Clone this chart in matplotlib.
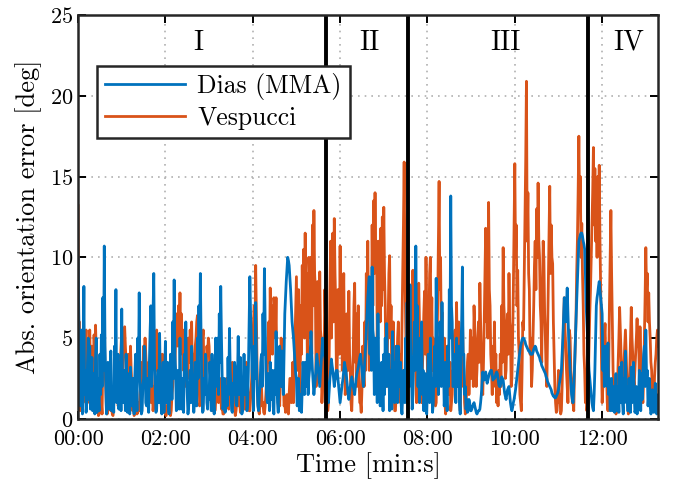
import numpy as np
import matplotlib
matplotlib.use("Agg")
import matplotlib.pyplot as plt
from matplotlib.ticker import FuncFormatter, MultipleLocator

plt.rcParams['font.family'] = ['cmr10', 'DejaVu Serif']
plt.rcParams['axes.formatter.use_mathtext'] = True

# sample times [s], one value per second (20 s per row below)
t_sec = np.arange(0, 800, 1)

err_dias = [
    10.0, 6.5, 4.0, 0.8, 2.0, 5.5, 0.3, 3.0, 8.2, 1.5, 3.0, 0.4, 1.0, 3.5, 5.0, 1.2, 4.5, 0.6, 2.2, 3.8,
    0.5, 1.8, 2.8, 0.3, 3.8, 5.0, 0.4, 2.5, 1.2, 0.5, 4.0, 1.5, 5.2, 2.0, 7.5, 3.0, 10.7, 4.5, 2.5, 0.3,
    0.8, 3.5, 2.0, 0.6, 3.0, 4.2, 0.5, 2.0, 1.5, 0.4, 4.5, 2.5, 8.0, 1.0, 2.5, 4.0, 0.6, 1.5, 3.5, 0.5,
    6.8, 2.0, 1.0, 3.0, 2.5, 0.5, 4.0, 1.5, 0.4, 2.8, 1.8, 0.3, 3.2, 1.5, 0.8, 2.5, 1.0, 0.3, 2.6, 4.0,
    2.0, 0.5, 5.0, 3.0, 7.8, 2.5, 1.5, 0.3, 0.5, 2.0, 2.5, 4.5, 4.2, 1.0, 0.8, 2.5, 1.5, 0.4, 3.5, 5.5,
    7.0, 2.0, 4.0, 6.5, 9.0, 3.5, 2.0, 0.4, 0.6, 2.2, 3.0, 1.0, 5.3, 2.5, 1.0, 0.3, 2.0, 3.5, 0.4, 2.5,
    4.8, 1.0, 2.0, 3.5, 0.8, 0.3, 1.8, 4.0, 3.2, 1.2, 6.0, 2.5, 8.6, 4.0, 3.0, 0.5, 1.0, 3.0, 2.2, 0.6,
    5.0, 2.0, 0.6, 1.5, 2.5, 0.4, 4.0, 2.5, 6.0, 3.0, 1.5, 0.3, 0.8, 2.0, 3.0, 1.0, 4.5, 2.5, 1.2, 0.4,
    1.0, 3.5, 2.8, 0.8, 5.0, 2.5, 7.0, 4.0, 9.0, 5.0, 2.0, 0.4, 0.5, 2.5, 1.5, 4.0, 3.5, 1.0, 0.6, 2.0,
    1.2, 3.5, 2.5, 0.5, 4.0, 2.0, 1.0, 0.3, 2.5, 5.0, 4.2, 2.0, 5.0, 1.5, 6.5, 3.5, 8.2, 5.0, 2.5, 0.6,
    1.0, 2.5, 0.4, 1.5, 2.0, 0.8, 3.8, 1.5, 5.6, 3.0, 2.0, 0.5, 0.4, 2.2, 1.5, 3.5, 3.0, 1.0, 0.8, 2.5,
    5.1, 1.5, 2.5, 3.8, 1.5, 0.3, 0.5, 2.0, 4.0, 1.5, 2.0, 3.2, 0.5, 1.0, 3.0, 6.0, 8.8, 6.5, 5.0, 3.0,
    2.0, 0.5, 4.5, 2.5, 7.2, 4.0, 2.0, 0.8, 0.5, 1.5, 2.0, 3.5, 4.0, 2.0, 6.5, 4.0, 9.3, 6.0, 3.0, 1.5,
    1.0, 2.8, 2.5, 0.5, 3.5, 1.2, 1.5, 3.0, 0.8, 0.3, 3.0, 1.5, 5.4, 2.8, 1.0, 0.4, 2.5, 4.5, 3.8, 2.0,
    4.2, 2.5, 1.5, 4.0, 6.5, 7.5, 8.5, 9.2, 10.0, 9.8, 9.5, 8.8, 8.0, 7.0, 6.0, 5.5, 5.0, 4.2, 3.5, 2.8,
    2.5, 0.8, 1.0, 2.5, 0.5, 1.5, 1.2, 0.4, 2.0, 3.5, 3.0, 1.5, 3.5, 2.0, 2.5, 4.0, 1.5, 2.5, 3.0, 4.2,
    5.4, 4.0, 3.0, 2.2, 1.5, 2.0, 2.5, 3.2, 4.0, 3.5, 3.0, 2.5, 2.0, 2.8, 3.5, 4.2, 5.0, 4.5, 4.0, 3.8,
    3.5, 2.8, 2.0, 1.5, 1.0, 1.8, 2.5, 3.0, 3.7, 3.3, 3.0, 2.5, 2.0, 2.4, 2.8, 3.0, 3.0, 2.5, 2.0, 1.5,
    1.0, 1.4, 1.8, 2.2, 2.5, 3.0, 3.5, 3.2, 3.0, 2.5, 2.0, 1.5, 1.2, 1.6, 2.0, 2.3, 2.6, 2.3, 2.0, 1.8,
    1.5, 2.0, 2.5, 2.8, 3.0, 3.2, 3.5, 3.8, 4.0, 3.5, 3.0, 2.5, 2.0, 2.8, 3.5, 4.5, 5.5, 6.5, 7.5, 8.2,
    8.8, 4.0, 7.0, 3.0, 9.4, 5.5, 5.0, 1.5, 3.0, 5.0, 4.5, 1.0, 6.5, 3.0, 3.0, 0.8, 1.0, 3.5, 2.5, 0.5,
    4.0, 1.5, 5.0, 2.0, 5.9, 3.0, 2.0, 4.0, 0.5, 2.0, 3.0, 0.6, 5.4, 2.0, 3.5, 1.0, 2.0, 4.5, 3.0, 1.0,
    4.5, 2.0, 2.0, 3.5, 0.8, 0.3, 1.5, 3.0, 3.0, 1.0, 5.0, 2.5, 7.2, 3.0, 5.5, 2.0, 8.3, 4.0, 3.0, 0.6,
    1.5, 4.0, 6.0, 3.0, 10.7, 5.0, 7.0, 2.0, 4.0, 1.0, 5.0, 2.5, 6.0, 1.5, 3.0, 0.5, 1.5, 2.8, 0.5, 0.3,
    2.0, 4.0, 3.5, 1.0, 5.0, 2.0, 2.5, 0.4, 1.0, 3.0, 4.5, 2.0, 8.7, 4.0, 5.0, 1.5, 3.0, 6.0, 5.0, 2.0,
    7.2, 3.0, 3.5, 0.8, 1.5, 3.5, 2.5, 0.5, 4.5, 2.0, 8.0, 5.0, 13.8, 7.0, 6.0, 2.0, 2.0, 4.0, 3.5, 1.0,
    5.0, 2.0, 2.5, 4.5, 1.0, 0.3, 4.5, 6.0, 9.4, 4.0, 4.0, 1.5, 2.0, 0.6, 1.2, 0.4, 0.8, 1.2, 1.0, 0.5,
    0.5, 0.6, 0.8, 0.9, 1.0, 0.8, 0.6, 0.4, 0.3, 0.4, 0.5, 0.5, 0.6, 1.0, 1.5, 2.2, 2.9, 2.6, 2.4, 2.7,
    2.9, 2.5, 2.2, 2.4, 2.6, 2.8, 2.9, 3.0, 3.0, 2.7, 2.4, 2.5, 2.5, 2.6, 2.8, 2.9, 2.8, 2.5, 2.1, 2.0,
    2.0, 2.3, 2.6, 2.5, 2.4, 2.0, 1.6, 1.4, 1.2, 1.5, 1.8, 1.9, 2.0, 1.5, 1.0, 0.7, 0.5, 0.7, 1.0, 1.2,
    1.5, 1.8, 2.2, 2.6, 3.0, 3.4, 3.8, 4.2, 4.5, 4.7, 4.9, 5.0, 5.0, 4.9, 4.8, 4.6, 4.5, 4.4, 4.3, 4.2,
    4.2, 4.1, 4.0, 4.0, 4.0, 4.1, 4.3, 4.4, 4.5, 4.4, 4.2, 4.1, 4.0, 3.9, 3.8, 3.6, 3.5, 3.3, 3.2, 3.1,
    3.0, 2.9, 2.8, 2.6, 2.5, 2.3, 2.2, 2.1, 2.0, 1.9, 1.8, 1.6, 1.5, 1.4, 1.4, 1.3, 1.3, 1.4, 1.5, 1.6,
    1.8, 2.1, 2.4, 2.7, 3.0, 4.0, 5.0, 6.2, 7.5, 6.5, 6.0, 7.0, 8.1, 6.5, 5.0, 4.0, 3.0, 2.2, 1.5, 1.2,
    1.0, 2.0, 3.0, 4.5, 6.0, 7.2, 8.5, 9.8, 11.0, 11.2, 11.4, 11.5, 11.5, 11.3, 11.0, 10.8, 10.5, 9.0, 7.0, 6.0,
    5.0, 4.0, 3.0, 2.5, 2.0, 1.5, 1.0, 0.7, 0.5, 1.5, 3.0, 5.0, 7.0, 7.5, 7.8, 8.2, 8.5, 8.0, 7.5, 7.0,
    6.5, 3.0, 4.5, 2.0, 3.0, 4.5, 4.0, 2.0, 4.7, 1.5, 2.5, 0.5, 1.0, 2.5, 0.5, 1.5, 2.0, 0.4, 1.0, 2.8,
    0.5, 2.0, 1.5, 0.4, 3.2, 1.0, 2.0, 3.5, 1.0, 0.3, 2.5, 1.0, 4.2, 1.5, 2.0, 0.5, 0.5, 2.5, 1.5, 0.4,
    3.2, 1.0, 2.5, 3.5, 1.5, 0.4, 0.6, 2.0, 0.3, 1.5, 1.0, 3.0, 2.0, 0.5, 2.8, 1.2, 3.0, 4.0, 4.5, 2.0,
    5.5, 2.5, 3.0, 0.8, 1.5, 2.5, 0.8, 0.3, 0.5, 1.8, 1.0, 0.4, 1.2, 2.2, 0.6, 0.3, 0.8, 1.5, 1.5, 0.6,
]

err_vespucci = [
    13.2, 3.0, 6.0, 0.5, 1.5, 4.0, 3.5, 1.0, 5.3, 2.0, 4.5, 5.5, 3.0, 1.0, 4.8, 2.5, 5.5, 3.0, 2.0, 4.5,
    4.0, 1.5, 5.2, 3.0, 5.8, 4.0, 2.5, 0.8, 0.2, 0.3, 0.5, 2.0, 1.0, 0.3, 4.0, 6.0, 7.2, 3.0, 2.0, 0.5,
    0.3, 0.6, 1.0, 2.0, 2.5, 0.5, 1.0, 0.3, 0.2, 1.0, 2.0, 3.5, 4.0, 1.5, 2.5, 0.8, 1.0, 2.5, 3.5, 4.5,
    5.4, 2.5, 4.0, 5.0, 5.7, 4.5, 3.5, 1.5, 2.0, 4.0, 3.0, 1.0, 4.5, 3.0, 2.0, 0.5, 0.8, 0.2, 0.4, 1.0,
    1.2, 0.3, 0.4, 1.0, 0.5, 1.5, 2.0, 3.0, 3.5, 2.0, 4.5, 3.5, 5.0, 4.0, 3.0, 1.0, 2.0, 3.5, 1.0, 2.0,
    3.0, 1.0, 2.0, 0.5, 1.0, 2.0, 3.0, 4.5, 5.5, 3.0, 4.0, 1.5, 2.5, 4.0, 3.5, 2.0, 4.0, 3.0, 1.5, 0.4,
    0.3, 0.2, 0.8, 0.5, 1.5, 0.8, 0.4, 0.2, 0.5, 1.5, 2.0, 3.0, 4.0, 3.0, 5.0, 6.5, 6.0, 4.5, 7.0, 5.5,
    7.8, 5.0, 6.5, 4.0, 5.5, 3.0, 4.0, 2.0, 3.0, 5.0, 4.0, 2.5, 5.0, 3.5, 5.5, 4.0, 6.0, 3.0, 4.0, 2.0,
    3.0, 4.5, 5.0, 6.0, 6.4, 2.0, 3.0, 0.8, 1.0, 2.5, 3.5, 5.0, 5.5, 2.5, 4.0, 2.0, 3.0, 4.5, 4.0, 5.0,
    4.5, 3.0, 2.5, 1.0, 1.5, 0.5, 0.8, 1.5, 0.5, 1.0, 1.2, 2.5, 2.0, 1.0, 1.8, 2.5, 1.5, 0.6, 0.8, 0.3,
    0.3, 0.8, 1.5, 2.0, 2.5, 1.5, 1.8, 0.6, 1.0, 1.8, 2.5, 3.0, 3.5, 2.0, 1.5, 0.6, 0.2, 0.5, 1.0, 1.5,
    2.0, 0.8, 1.2, 0.4, 0.5, 1.5, 1.0, 2.0, 1.5, 0.6, 2.5, 3.5, 3.0, 2.0, 1.5, 0.5, 0.5, 1.2, 2.0, 3.0,
    4.0, 6.0, 7.0, 5.0, 9.5, 6.0, 3.0, 1.0, 0.5, 0.3, 1.0, 2.5, 2.0, 0.8, 1.0, 0.4, 0.3, 0.8, 1.5, 2.5,
    3.0, 4.5, 6.0, 3.5, 8.1, 5.0, 7.0, 4.0, 6.0, 7.5, 7.0, 5.0, 7.5, 3.0, 4.0, 1.5, 2.0, 0.8, 3.0, 5.0,
    4.0, 2.0, 2.5, 0.8, 1.0, 0.4, 0.8, 1.5, 0.5, 0.3, 1.5, 2.5, 2.5, 1.0, 1.8, 3.5, 1.0, 3.0, 5.0, 7.0,
    8.8, 3.0, 5.5, 8.0, 3.0, 1.0, 7.0, 4.0, 9.5, 6.0, 10.5, 5.0, 11.5, 7.0, 9.0, 3.5, 7.0, 10.0, 9.0, 5.0,
    10.0, 4.0, 12.0, 7.0, 12.9, 9.0, 8.0, 2.0, 4.0, 8.5, 7.0, 3.0, 9.1, 5.5, 5.0, 1.0, 2.0, 4.5, 3.5, 8.0,
    6.0, 2.0, 3.0, 0.5, 1.0, 4.0, 8.0, 11.0, 5.0, 9.0, 11.5, 6.0, 12.4, 9.0, 7.0, 2.5, 3.0, 8.0, 6.5, 4.0,
    10.7, 5.0, 8.5, 3.0, 6.0, 9.0, 4.0, 1.5, 2.0, 6.5, 5.0, 3.0, 7.9, 4.0, 3.0, 1.0, 0.5, 2.0, 4.0, 7.0,
    8.4, 3.5, 6.5, 2.0, 4.5, 7.0, 2.5, 1.0, 1.0, 0.4, 1.8, 4.5, 3.0, 2.0, 6.0, 3.0, 9.0, 5.0, 11.0, 6.0,
    3.0, 6.0, 8.0, 4.0, 12.0, 7.0, 13.5, 9.0, 14.0, 10.0, 11.0, 5.0, 8.0, 11.0, 10.0, 6.0, 11.8, 7.0, 12.5, 8.0,
    13.1, 9.0, 7.0, 3.0, 2.0, 4.5, 6.0, 9.0, 10.1, 5.0, 7.0, 2.5, 4.0, 6.0, 2.0, 0.5, 0.5, 1.5, 3.0, 5.0,
    6.0, 2.0, 4.0, 1.0, 2.5, 6.0, 9.0, 12.0, 15.9, 10.0, 6.0, 3.0, 1.0, 2.0, 3.5, 7.0, 6.5, 3.0, 8.0, 4.0,
    9.2, 5.0, 6.0, 8.0, 3.0, 1.0, 5.5, 3.0, 8.4, 6.0, 4.0, 1.5, 1.0, 3.0, 4.5, 6.5, 7.9, 4.0, 10.0, 6.0,
    3.0, 1.5, 6.0, 9.0, 10.0, 5.0, 7.5, 3.0, 5.0, 2.0, 2.5, 0.8, 1.0, 4.0, 7.0, 11.0, 14.7, 8.0, 10.0, 5.0,
    6.6, 2.5, 3.0, 5.0, 1.0, 0.3, 2.5, 4.5, 4.0, 1.5, 2.0, 3.5, 0.5, 1.0, 1.5, 3.0, 3.0, 5.0, 5.5, 2.5,
    7.2, 3.5, 4.5, 6.0, 2.0, 0.5, 4.0, 2.0, 6.5, 4.0, 3.0, 1.0, 0.3, 0.8, 2.0, 3.5, 4.0, 1.5, 3.0, 5.5,
    2.5, 4.0, 5.0, 2.0, 7.0, 5.5, 4.5, 2.0, 3.0, 4.5, 6.0, 3.5, 8.4, 6.0, 4.0, 2.0, 1.5, 3.5, 6.0, 9.0,
    11.8, 6.0, 9.0, 5.0, 13.4, 8.0, 7.0, 4.0, 3.0, 1.5, 4.5, 2.0, 6.0, 3.0, 4.0, 1.0, 2.0, 0.8, 3.0, 1.5,
    4.0, 2.0, 7.0, 3.5, 10.6, 7.0, 6.0, 2.5, 3.0, 5.0, 6.5, 4.0, 9.0, 6.0, 5.5, 2.0, 2.5, 5.0, 8.0, 12.0,
    15.8, 10.0, 12.0, 7.0, 9.2, 5.0, 4.0, 1.5, 1.0, 0.5, 3.0, 6.0, 5.5, 9.0, 12.0, 16.0, 20.9, 11.0, 14.0, 9.0,
    8.0, 4.0, 5.0, 2.0, 3.0, 5.0, 7.0, 9.5, 11.0, 8.0, 13.0, 10.0, 14.6, 11.0, 10.0, 7.0, 6.0, 3.5, 8.0, 11.0,
    9.8, 6.5, 5.0, 3.0, 2.0, 5.0, 8.0, 11.0, 14.4, 9.0, 12.0, 10.0, 9.6, 6.0, 4.0, 2.0, 1.0, 0.4, 0.5, 1.5,
    3.0, 1.0, 1.5, 0.3, 0.5, 2.0, 4.0, 6.0, 7.5, 5.5, 4.5, 3.0, 2.0, 1.0, 3.5, 5.5, 5.0, 3.0, 2.5, 1.0,
    1.0, 0.5, 3.0, 4.5, 6.0, 9.0, 11.0, 14.0, 17.5, 13.0, 15.0, 10.0, 12.1, 9.0, 7.0, 4.0, 3.0, 1.0, 1.5, 0.5,
    1.0, 2.5, 4.5, 6.5, 8.0, 10.0, 12.0, 14.0, 16.8, 12.0, 15.5, 11.0, 14.0, 10.0, 15.0, 12.0, 15.7, 11.0, 8.0, 4.0,
    1.0, 2.0, 3.0, 5.0, 5.9, 3.5, 3.0, 1.0, 0.5, 3.0, 7.0, 10.0, 12.9, 9.0, 6.0, 3.0, 2.0, 0.5, 1.0, 0.3,
    0.5, 2.0, 3.5, 5.0, 6.9, 5.5, 4.0, 2.0, 1.5, 2.5, 3.5, 4.5, 5.5, 4.0, 2.5, 1.0, 0.3, 1.5, 3.0, 5.0,
    6.9, 5.0, 4.0, 2.5, 2.0, 3.0, 4.0, 5.0, 6.2, 4.5, 5.0, 3.0, 5.7, 4.0, 3.0, 1.5, 1.0, 2.5, 5.0, 7.5,
    10.6, 8.0, 9.0, 6.0, 7.8, 6.0, 5.0, 3.5, 3.0, 1.5, 2.0, 1.0, 2.6, 3.5, 4.0, 5.0, 5.5, 4.5, 5.0, 5.5,
]

# phase boundaries [s] and phase names
phase_bounds = [340, 453, 700]
phase_names = ['I', 'II', 'III', 'IV']
phase_label_t = [165, 400, 587, 757]

blue = '#0072BD'
orange = '#D95319'

fig = plt.figure(figsize=(6.73, 4.87), dpi=100)
ax = fig.add_axes([0.116, 0.14, 0.862, 0.829])

l2, = ax.plot(t_sec, err_vespucci, color=orange, lw=2.0, label='Vespucci')
l1, = ax.plot(t_sec, err_dias, color=blue, lw=2.0, label='Dias (MMA)')

for tb in phase_bounds:
    ax.axvline(tb, color='black', lw=2.8, zorder=4)
for name, tx in zip(phase_names, phase_label_t):
    ax.text(tx, 23.3, name, ha='center', va='center', fontsize=20)

ax.set_xlim(0, 797)
ax.set_ylim(0, 25)
ax.xaxis.set_major_locator(MultipleLocator(120))
ax.yaxis.set_major_locator(MultipleLocator(5))
ax.xaxis.set_major_formatter(FuncFormatter(
    lambda v, pos: '{:02d}:{:02d}'.format(int(v) // 60, int(v) % 60)))

ax.grid(True, color='#b0b0b0', linestyle=(0, (1, 3)), linewidth=1.2)
ax.tick_params(direction='in', top=True, right=True, length=6, width=1.4,
               labelsize=16)
ax.tick_params(axis='x', pad=8)
for s in ax.spines.values():
    s.set_linewidth(1.8)
    s.set_color('#262626')
    s.set_zorder(5)

ax.set_xlabel('Time [min:s]', fontsize=19, labelpad=2)
ax.set_ylabel('Abs. orientation error [deg]', fontsize=19, labelpad=6)

leg = ax.legend(handles=[l1, l2], loc='upper left', bbox_to_anchor=(0.033, 0.875),
                fontsize=18.5, fancybox=False, framealpha=1, edgecolor='#262626',
                handlelength=3.1, borderpad=0.3, labelspacing=0.25,
                handletextpad=0.5, borderaxespad=0)
leg.get_frame().set_linewidth(1.8)
leg.set_zorder(6)

fig.savefig('out.png', dpi=100)
